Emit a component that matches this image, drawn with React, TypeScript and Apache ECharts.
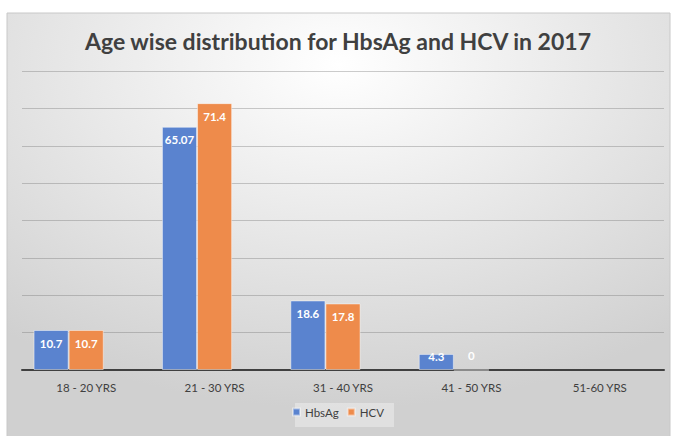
import React, { useEffect, useRef } from "react";
import * as echarts from "echarts";

const categories = ["18 - 20 YRS", "21 - 30 YRS", "31 - 40 YRS", "41 - 50 YRS", "51-60 YRS"];
const hbsAg: (number | null)[] = [10.7, 65.07, 18.6, 4.3, null];
const hcv: (number | null)[] = [10.7, 71.4, 17.8, 0, null];
const spare: (number | null)[] = [null, null, null, null, null];
const seriesNames = ["HbsAg", "HCV"];

const FONT = "Lato, 'Open Sans', sans-serif";

function toItems(vals: (number | null)[]) {
  return vals.map((v) => {
    if (v === null) return { value: null };
    if (v === 0) return { value: v, label: { position: "top", distance: 8 } };
    if (v < 8) return { value: v, label: { position: "insideTop", distance: -3 } };
    return { value: v };
  });
}

export default function App() {
  const ref = useRef<HTMLDivElement>(null);
  useEffect(() => {
    const chart = echarts.init(ref.current!, undefined, { renderer: "svg" });
    const label = {
      show: true,
      position: "insideTop",
      distance: 7,
      color: "#ffffff",
      fontFamily: FONT,
      fontWeight: "bold",
      fontSize: 11.5,
    };
    chart.setOption({
      animation: false,
      backgroundColor: "#ffffff",
      graphic: [
        {
          type: "rect",
          z: -10,
          silent: true,
          shape: { x: 7, y: 13, width: 663, height: 430 },
          style: {
            fill: new echarts.graphic.RadialGradient(0.5, 0.12, 0.8, [
              { offset: 0, color: "#ffffff" },
              { offset: 1, color: "#d0d0d0" },
            ]),
            stroke: "#c8c8c8",
            lineWidth: 1,
          },
        },
        {
          type: "rect",
          z: -5,
          silent: true,
          shape: { x: 295, y: 403, width: 99, height: 24 },
          style: { fill: "rgba(255,255,255,0.35)" },
        },
      ],
      title: {
        text: "Age wise distribution for HbsAg and HCV in 2017",
        left: "center",
        top: 24,
        textStyle: {
          fontFamily: FONT,
          fontWeight: "bold",
          fontSize: 23,
          color: "#404040",
        },
      },
      legend: {
        data: seriesNames,
        bottom: 13,
        left: "center",
        itemWidth: 7,
        itemHeight: 7,
        itemGap: 8,
        icon: "rect",
        textStyle: { fontFamily: FONT, fontSize: 11.5, color: "#404040" },
      },
      grid: { left: 22, right: 12, top: 71, bottom: 66 },
      xAxis: {
        type: "category",
        data: categories,
        axisLine: { lineStyle: { color: "#404040", width: 2 } },
        axisTick: { show: false },
        axisLabel: { fontFamily: FONT, fontSize: 11.5, color: "#404040", margin: 11 },
      },
      yAxis: {
        type: "value",
        min: 0,
        max: 80,
        interval: 10,
        axisLabel: { show: false },
        axisLine: { show: false },
        axisTick: { show: false },
        splitLine: { lineStyle: { color: "rgba(110,110,110,0.35)", width: 1 } },
      },
      series: [
        {
          name: seriesNames[0],
          type: "bar",
          data: toItems(hbsAg),
          barGap: "0%",
          barCategoryGap: "18%",
          itemStyle: { color: "#5a83cf", borderColor: "rgba(255,255,255,0.45)", borderWidth: 1 },
          label,
        },
        {
          name: seriesNames[1],
          type: "bar",
          data: toItems(hcv),
          barGap: "0%",
          barCategoryGap: "18%",
          itemStyle: { color: "#ee8b4b", borderColor: "rgba(255,255,255,0.45)", borderWidth: 1 },
          label,
        },
        {
          name: "spare",
          type: "bar",
          data: spare,
          barGap: "0%",
          barCategoryGap: "18%",
          itemStyle: { color: "#a5a5a5" },
        },
      ],
    });
    return () => chart.dispose();
  }, []);
  return (
    <div
      ref={ref}
      style={{ position: "fixed", left: 0, top: 0, width: 676, height: 436 }}
    />
  );
}
